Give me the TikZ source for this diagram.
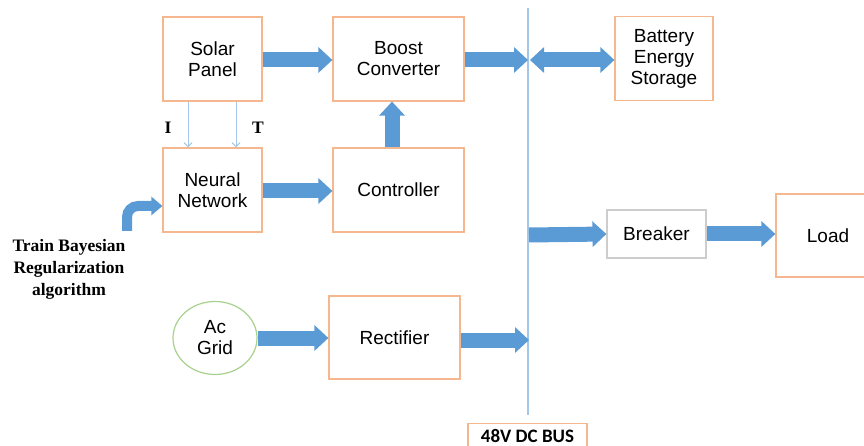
\documentclass[tikz,border=0pt]{standalone}
\usepackage{fontspec}
\setmainfont{Liberation Sans}
\newfontfamily\serifb{Liberation Serif}
\newfontfamily\calib{Carlito}
\usetikzlibrary{arrows.meta,shapes.geometric}
\definecolor{boxor}{RGB}{244,183,142}
\definecolor{arblue}{RGB}{91,155,213}
\definecolor{busblue}{RGB}{163,199,232}
\definecolor{grgreen}{RGB}{169,209,142}
\definecolor{brgray}{RGB}{205,205,205}
\begin{document}
\begin{tikzpicture}[x=1pt,y=-1pt,
  box/.style={draw=boxor, line width=1.2pt, minimum width=#1, minimum height=84pt, inner sep=0pt, align=center, font=\fontsize{19}{21}\selectfont},
  fat/.style={draw=arblue, line width=15pt, -{Triangle[length=14pt,width=25pt]}},
  fatboth/.style={draw=arblue, line width=15pt, {Triangle[length=14pt,width=25pt]}-{Triangle[length=14pt,width=25pt]}},
  thin/.style={draw=busblue, line width=1pt, -{Straight Barb[length=4pt,width=8pt]}},
  lbl/.style={font=\serifb\bfseries\fontsize{17.5}{22}\selectfont, align=center, inner sep=0pt}
]
\useasboundingbox (0,0) rectangle (864,446);

% nodes
\node[box=99pt] (solar) at (212.5,59) {Solar\\Panel};
\node[box=131pt] (boost) at (398.5,59) {Boost\\Converter};
\node[box=99pt] (nn) at (212.5,190) {Neural\\Network};
\node[box=131pt] (ctrl) at (398.5,190) {Controller};
\node[box=98pt] (batt) at (664,58.5) {Battery\\Energy\\Storage};
\node[box=99pt, draw=brgray, minimum height=48pt] (brk) at (656.5,234) {Breaker};
\node[box=104pt, minimum height=83pt] (load) at (828,235.5) {Load};
\node[box=131pt, minimum height=83pt] (rect) at (394.5,337.5) {Rectifier};
\node[draw=grgreen, line width=1.2pt, ellipse, minimum width=84pt, minimum height=73pt, inner sep=0pt, align=center, font=\fontsize{19}{21}\selectfont] (grid) at (215,338) {Ac\\Grid};
\node[draw=boxor, line width=1.2pt, anchor=north, minimum width=119pt, inner ysep=6pt, text depth=20pt, font=\calib\bfseries\fontsize{19}{19}\selectfont] (bus) at (527.5,423) {48V DC BUS};

\node[lbl] (train) at (69,269) {Train Bayesian\\Regularization\\algorithm};
\node[lbl] (lI) at (168,128) {I};
\node[lbl] (lT) at (258,128) {T};

% bus line
\coordinate (busT) at (528,8);
\coordinate (busB) at (528,415);
\draw[busblue, line width=1.5pt] (busT) -- (busB);

\coordinate (b1) at (528,60);
\coordinate (b1r) at (530,60);
\coordinate (b2) at (529,235);
\coordinate (b3) at (529,340);

% fat arrows
\draw[fat] (solar.east |- 0,60) -- (boost.west |- 0,60);
\draw[fat] (boost.east |- 0,60) -- (b1);
\draw[fatboth] (b1r) -- (batt.west |- 0,60);
\draw[fat] (nn.east |- 0,191) -- (ctrl.west |- 0,191);
\draw[fat] (ctrl.north -| 392,0) -- (boost.south -| 392,0);
\draw[fat] (b2) -- (brk.west);
\draw[fat] (brk.east) -- (load.west |- brk.east);
\draw[fat] (grid.east |- 0,338) -- (rect.west |- 0,338);
\draw[fat] (rect.east |- 0,340) -- (b3);

% curved arrow
\coordinate (cA) at (127,231);
\draw[draw=arblue, line width=10pt, rounded corners=11pt, -{Triangle[length=11pt,width=18pt]}] (cA) |- ([yshift=-16pt]nn.west);

% thin arrows
\draw[thin] (solar.south -| 188,0) -- (nn.north -| 188,0);
\draw[thin] (solar.south -| 236,0) -- (nn.north -| 236,0);
\end{tikzpicture}
\end{document}
